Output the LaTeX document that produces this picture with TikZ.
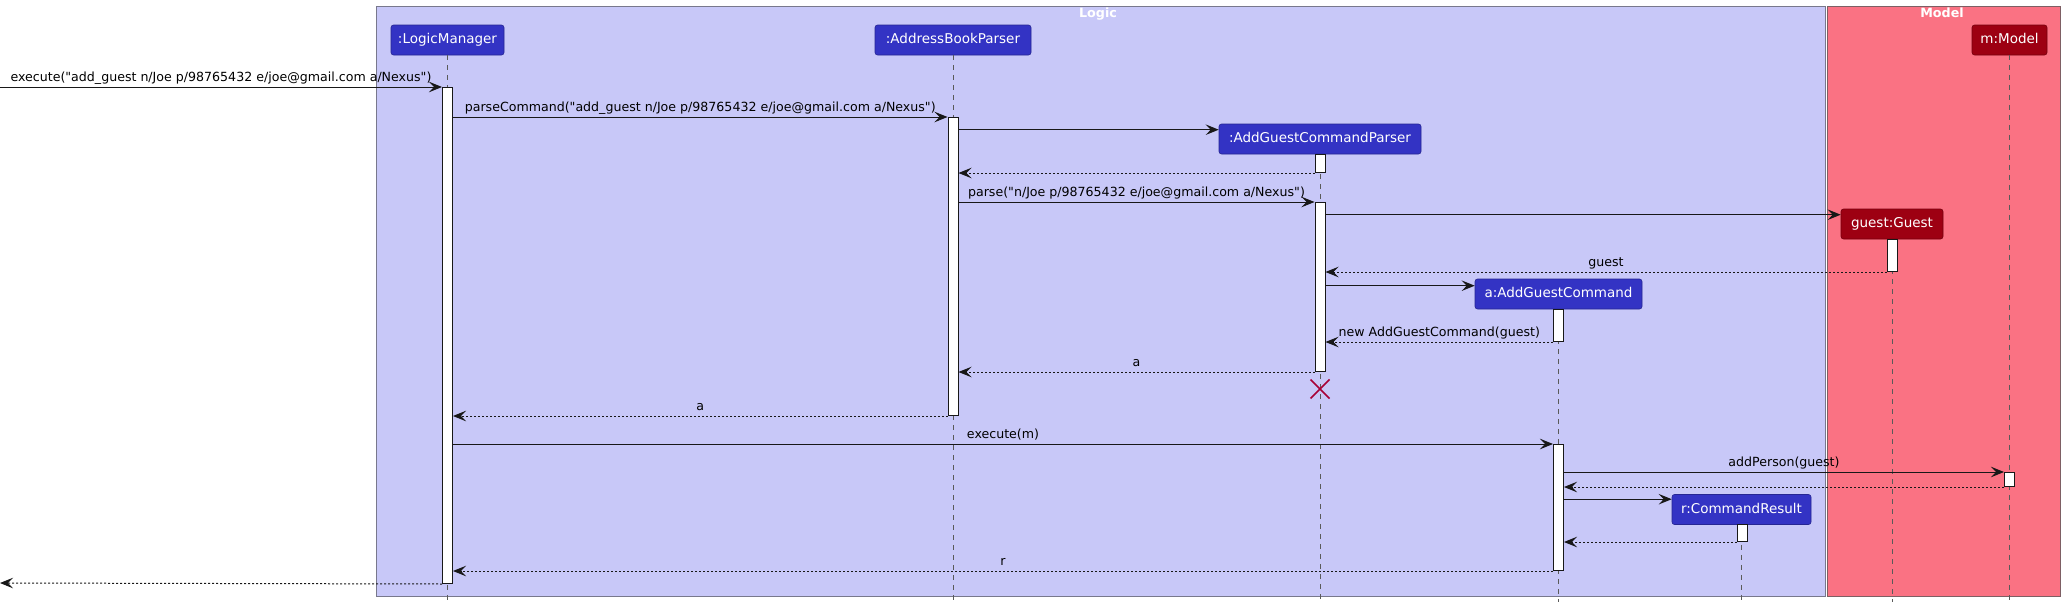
\documentclass[tikz,border=0pt]{standalone}
\usepackage{fontspec}
\setmainfont{DejaVu Sans}
\newfontfamily\dvs{DejaVu Sans}
\usetikzlibrary{arrows.meta,calc}
\definecolor{logicbg}{RGB}{200,200,248}
\definecolor{modelbg}{RGB}{250,114,131}
\definecolor{logicp}{RGB}{51,51,196}
\definecolor{modelp}{RGB}{157,0,18}
\definecolor{framec}{RGB}{120,120,140}
\definecolor{mframec}{RGB}{125,95,100}
\definecolor{msgc}{RGB}{24,24,24}
\definecolor{xcol}{RGB}{168,0,54}
\definecolor{lifec}{RGB}{90,90,90}
\begin{document}
\begin{tikzpicture}[x=1pt,y=-1pt,
  framebox/.style={draw=framec, line width=1pt, anchor=north west, inner sep=0pt},
  ftitle/.style={anchor=base, text=white, inner sep=0pt, font=\dvs\fontsize{12.7}{14}\selectfont\bfseries},
  partbox/.style={rounded corners=2.5pt, draw=#1!75!black, line width=0.6pt, fill=#1, text=white,
    font=\dvs\fontsize{13.5}{15}\selectfont, minimum height=30pt, inner sep=0pt, text height=10pt, text depth=3pt},
  actbox/.style={draw=msgc, fill=white, line width=1pt, minimum width=10pt, inner sep=0pt, anchor=north},
  life/.style={draw=lifec, line width=0.8pt, dash pattern=on 5pt off 5pt},
  msg/.style={-{Stealth[length=13pt,width=10.5pt,inset=5pt]}, draw=msgc, line width=1pt},
  ret/.style={msg, dash pattern=on 2pt off 2pt},
  lbl/.style={midway, anchor=base, yshift=5.5pt, inner sep=0pt, text=black, font=\dvs\fontsize{12.6}{14}\selectfont},
  xmark/.style={draw=xcol, line width=1.6pt}
]
\useasboundingbox (0,0) rectangle (2065,608);

% frames
\node[framebox, fill=logicbg, minimum width=1449pt, minimum height=590pt] (logicF) at (376,6) {};
\node[framebox, draw=mframec, fill=modelbg, minimum width=233pt, minimum height=590pt] (modelF) at (1827,6) {};
\node[ftitle] (logicT) at ($(logicF.north)+(-3,11.5)$) {Logic};
\node[ftitle] (modelT) at ($(modelF.north)+(-2,11.5)$) {Model};

% participants
\node[partbox=logicp, minimum width=113pt] (lm) at (447.5,40) {:LogicManager};
\node[partbox=logicp, minimum width=156pt] (abp) at (953,40) {:AddressBookParser};
\node[partbox=logicp, minimum width=202pt] (agcp) at (1320,139) {:AddGuestCommandParser};
\node[partbox=modelp, minimum width=102pt] (guest) at (1892,224) {guest:Guest};
\node[partbox=logicp, minimum width=167pt] (agc) at (1558.5,294) {a:AddGuestCommand};
\node[partbox=logicp, minimum width=139pt] (res) at (1741.5,509.5) {r:CommandResult};
\node[partbox=modelp, minimum width=75pt] (mdl) at (2009.5,40) {m:Model};

% lifeline ends
\coordinate (lmE) at (447.5,602);
\coordinate (abpE) at (953,602);
\coordinate (agcpE) at (1320,602);
\coordinate (guestE) at (1892,602);
\coordinate (agcE) at (1558.5,602);
\coordinate (resE) at (1741.5,602);
\coordinate (mdlE) at (2009.5,602);
\draw[life] (lm.south) -- (lmE);
\draw[life] (abp.south) -- (abpE);
\draw[life] (agcp.south) -- (agcpE);
\draw[life] (guest.south) -- (guestE);
\draw[life] (agc.south) -- (agcE);
\draw[life] (res.south) -- (resE);
\draw[life] (mdl.south) -- (mdlE);

% activations
\node[actbox, minimum height=496pt] (lmA) at (447.5,87) {};
\node[actbox, minimum height=298pt] (abpA) at (953,117) {};
\node[actbox, minimum height=18pt] (agcpA1) at (1320,154) {};
\node[actbox, minimum height=169pt] (agcpA2) at (1320,202) {};
\node[actbox, minimum height=32pt] (gA) at (1892,239) {};
\node[actbox, minimum height=32pt] (agcA1) at (1558.5,309) {};
\node[actbox, minimum height=126pt] (agcA2) at (1558.5,444) {};
\node[actbox, minimum height=14pt] (mA) at (2009.5,472) {};
\node[actbox, minimum height=17pt] (rA) at (1742,524) {};

% external endpoints
\coordinate (inL) at (0,87);
\coordinate (outL) at (0,583);
\coordinate (cAGCP) at ($(agcp.north west)+(0,6)$);
\coordinate (cG) at ($(guest.north west)+(0,6)$);
\coordinate (cAGC) at ($(agc.north west)+(0,7)$);
\coordinate (cR) at ($(res.north west)+(0,5)$);

% messages
\draw[msg] (inL) -- (lmA.north west) node[lbl] {execute("add\_guest n/Joe p/98765432 e/joe@gmail.com a/Nexus")};
\draw[msg] (lmA.east |- abpA.north) -- (abpA.north west) node[lbl] {parseCommand("add\_guest n/Joe p/98765432 e/joe@gmail.com a/Nexus")};
\draw[msg] (abpA.east |- cAGCP) -- (cAGCP);
\draw[ret] (agcpA1.south west) -- (abpA.east |- agcpA1.south);
\draw[msg] (abpA.east |- agcpA2.north) -- (agcpA2.north west) node[lbl] {parse("n/Joe p/98765432 e/joe@gmail.com a/Nexus")};
\draw[msg] (agcpA2.east |- cG) -- (cG);
\draw[ret] (gA.south west) -- (agcpA2.east |- gA.south) node[lbl] {guest};
\draw[msg] (agcpA2.east |- cAGC) -- (cAGC);
\draw[ret] (agcA1.south west) -- (agcpA2.east |- agcA1.south) node[lbl] {new AddGuestCommand(guest)};
\draw[ret] (agcpA2.south west) -- (abpA.east |- agcpA2.south) node[lbl] {a};
\draw[ret] (abpA.south west) -- (lmA.east |- abpA.south) node[lbl] {a};
\draw[msg] (lmA.east |- agcA2.north) -- (agcA2.north west) node[lbl] {execute(m)};
\draw[msg] (agcA2.east |- mA.north) -- (mA.north west) node[lbl] {addPerson(guest)};
\draw[ret] (mA.south west) -- (agcA2.east |- mA.south);
\draw[msg] (agcA2.east |- cR) -- (cR);
\draw[ret] (rA.south west) -- (agcA2.east |- rA.south);
\draw[ret] (agcA2.south west) -- (lmA.east |- agcA2.south) node[lbl] {r};
\draw[ret] (lmA.south west) -- (outL);

% destroy mark
\coordinate (xc) at (1320,389);
\draw[xmark] ($(xc)+(-9.5,-9.5)$) -- ($(xc)+(9.5,9.5)$);
\draw[xmark] ($(xc)+(-9.5,9.5)$) -- ($(xc)+(9.5,-9.5)$);
\end{tikzpicture}
\end{document}
